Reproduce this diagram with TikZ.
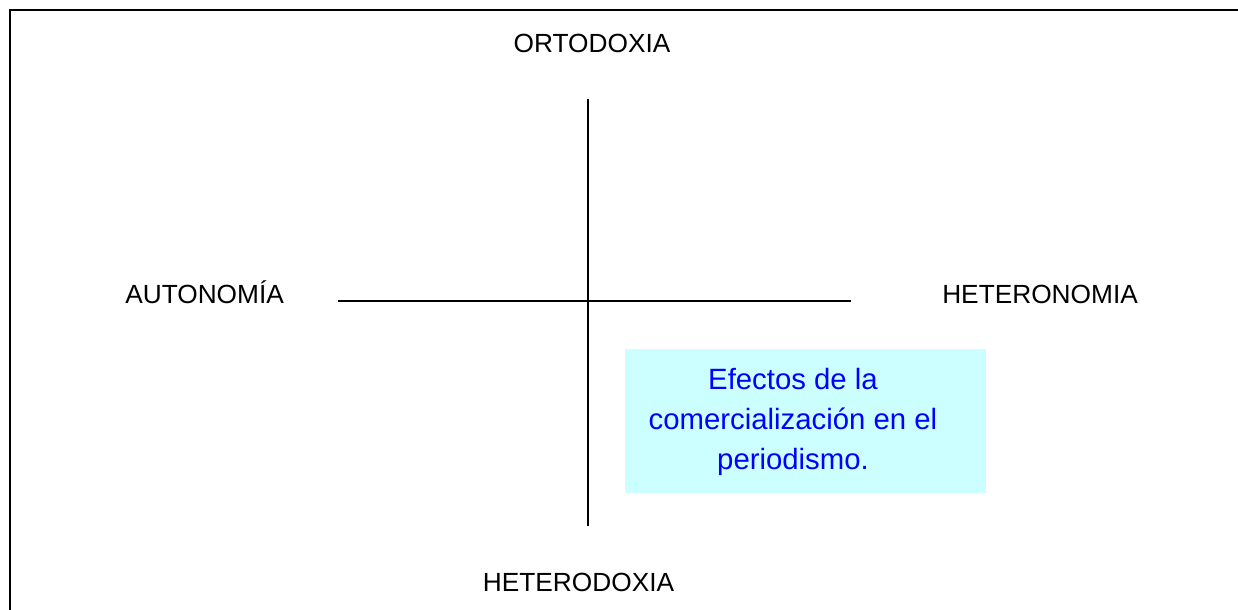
\documentclass[tikz,border=0pt]{standalone}
\usepackage{fontspec}
\setmainfont{Liberation Sans}
\usepackage{tikz}

\begin{document}
\begin{tikzpicture}
  [x=0.75pt,y=-0.75pt,
   eje/.style={line width=1.1pt},
   polo/.style={inner sep=0pt,font=\fontsize{19.7}{24}\selectfont},
   cuadro/.style={fill=celeste,inner sep=0pt,minimum width=270.75pt,minimum height=108pt}]

  \definecolor{celeste}{HTML}{CCFFFF}
  \clip (0,0) rectangle (1238,610);
  \draw[line width=1.5pt] (10,640) -- (10,10) -- (1260,10);

  \node[cuadro] (c1) at (805.5,421) {};
  \node[align=center,inner sep=0pt,text=blue,font=\fontsize{22}{30}\selectfont]
    (t1) at (793,422) {Efectos de la\\comercialización en el\\periodismo.};

  \node[polo,anchor=base] (n1) at (592,53) {ORTODOXIA};
  \node[polo,anchor=base] (n2) at (578.5,591) {HETERODOXIA};
  \node[polo,anchor=base west] (n3) at (125,303) {AUTONOMÍA};
  \node[polo,anchor=base west] (n4) at (942,303) {HETERONOMIA};

  \coordinate (a1) at (588,99);
  \coordinate (a2) at (588,526);
  \coordinate (a3) at (338,301);
  \coordinate (a4) at (851,301);

  \foreach \from/\to in {a1/a2,a3/a4}
    \draw[eje] (\from) -- (\to);
\end{tikzpicture}
\end{document}
